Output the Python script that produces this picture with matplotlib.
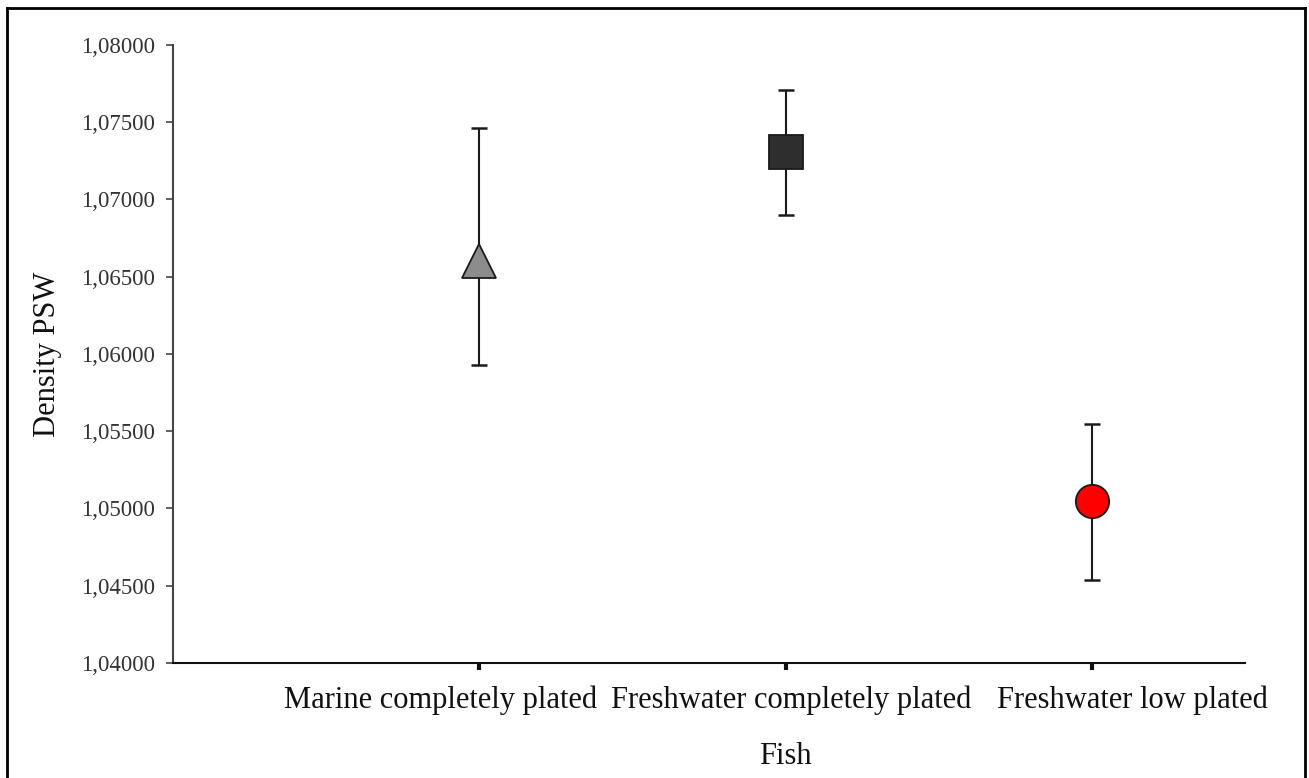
import matplotlib
matplotlib.use("Agg")
import matplotlib.pyplot as plt
from matplotlib.ticker import FuncFormatter, FixedLocator
from matplotlib.lines import Line2D
from matplotlib.transforms import ScaledTranslation
import numpy as np

categories = ["Marine completely plated", "Freshwater completely plated", "Freshwater low plated"]
means = [1.0660, 1.0731, 1.0505]
upper = [1.0746, 1.0771, 1.0555]
lower = [1.0593, 1.0690, 1.0454]
markers = ["^", "s", "o"]
colors = ["#8c8c8c", "#2e2e2e", "#ff0000"]
yticks = [1.040, 1.045, 1.050, 1.055, 1.060, 1.065, 1.070, 1.075, 1.080]

plt.rcParams['font.family'] = ['Liberation Serif', 'DejaVu Serif']

fig = plt.figure(figsize=(13.09, 7.78), dpi=100)
ax = fig.add_axes([173/1309, 1 - 663/778, (1245 - 173)/1309, (663 - 45)/778])

x = np.arange(1, len(categories) + 1)
for i in range(len(categories)):
    ax.errorbar(x[i], means[i],
                yerr=[[means[i] - lower[i]], [upper[i] - means[i]]],
                fmt='none', ecolor='#1a1a1a', elinewidth=1.5, capsize=6, capthick=1.8, zorder=2)
    ax.plot(x[i], means[i], marker=markers[i], markersize=24, markerfacecolor=colors[i],
            markeredgecolor='#1a1a1a', markeredgewidth=1.3, linestyle='none', zorder=3)

ax.set_xlim(0, 3.5)
ax.set_ylim(1.04, 1.08)
ax.yaxis.set_major_locator(FixedLocator(yticks))
ax.yaxis.set_major_formatter(FuncFormatter(lambda v, p: f"{v:.5f}".replace('.', ',')))
ax.set_xticks(x)
ax.set_xticklabels([])

# Excel-like shifted category labels (pixel offsets from tick)
label_shift_px = [-39, 6, 41]
for xi, cat, dx in zip(x, categories, label_shift_px):
    tr = ax.get_xaxis_transform() + ScaledTranslation(dx / 100, -37 / 100, fig.dpi_scale_trans)
    ax.text(xi, 0, cat, transform=tr, ha='center', va='center', fontsize=22,
            color='#111111', clip_on=False)

for s in ['top', 'right']:
    ax.spines[s].set_visible(False)
ax.spines['left'].set_color('#444444')
ax.spines['left'].set_linewidth(1.5)
ax.spines['bottom'].set_color('#111111')
ax.spines['bottom'].set_linewidth(1.5)

ax.tick_params(axis='y', direction='out', length=5, width=1.2, color='#444444',
               labelsize=16.5, labelcolor='#333333', pad=8)
ax.tick_params(axis='x', direction='out', length=5, width=3, color='#111111')

ax.set_ylabel("Density PSW", fontsize=22, color='#111111', labelpad=14)
ax.set_xlabel("Fish", fontsize=22, color='#111111')
ax.xaxis.set_label_coords((785 - 173) / (1245 - 173), -(757 - 663) / (663 - 45))
ax.xaxis.label.set_verticalalignment('center')

# outer frame
fr = dict(color='black', linewidth=2, transform=fig.transFigure)
fig.add_artist(Line2D([7/1309, 7/1309], [0, 1 - 8/778], **fr))
fig.add_artist(Line2D([7/1309, 1305/1309], [1 - 8/778, 1 - 8/778], **fr))
fig.add_artist(Line2D([1305/1309, 1305/1309], [0, 1 - 8/778], **fr))

fig.savefig("out.png", dpi=100, facecolor='white')
